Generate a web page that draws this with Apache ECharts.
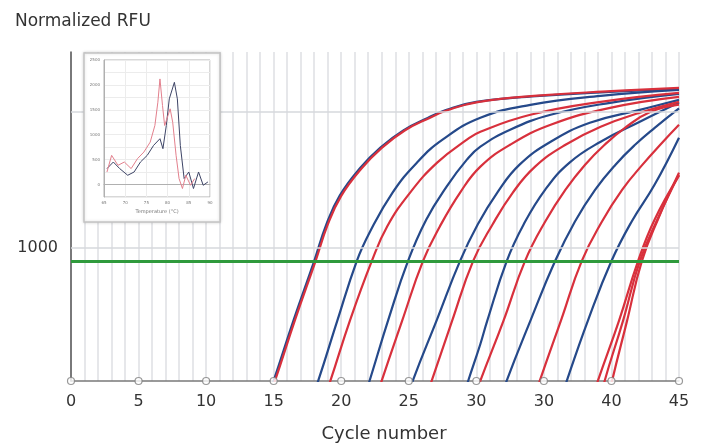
<!DOCTYPE html>
<html>
<head>
<meta charset="utf-8">
<script src="https://cdn.jsdelivr.net/npm/echarts@6.0.0/dist/echarts.min.js"></script>
<style>
  html, body { margin: 0; padding: 0; background: #fff; }
  #chart { width: 706px; height: 448px; }
</style>
</head>
<body>
<div id="chart"></div>
<script>
// x axis ticks (the reference really prints "30" twice)
const tickCycles = [0, 5, 10, 15, 20, 25, 30, 35, 40, 45];
const xTickLabels = ['0', '5', '10', '15', '20', '25', '30', '30', '40', '45'];

// y axis (log RFU)
const rfuMin = 103.5;
const rfuMax = 27600;
const gridRFU = [1000, 10000];
const thresholdRFU = 793;

// amplification curves: [cycle, RFU]
const blue1 = [[14.0, 54], [15.0, 104], [16.5, 296], [18.0, 793], [18.9, 1480], [19.9, 2420], [21.4, 3850], [22.9, 5450], [24.6, 7300], [26.4, 9000], [27.8, 10340], [30.0, 11840], [34.7, 13110], [39.9, 14030], [45, 14760]];
const red1 = [[14.1, 54], [15.1, 104], [16.6, 296], [18.1, 793], [19.0, 1470], [20.0, 2400], [21.5, 3820], [23.0, 5420], [24.7, 7280], [26.5, 8980], [27.9, 10300], [30.1, 11800], [34.8, 13200], [40.0, 14200], [45, 15000]];
const blue2 = [[17.3, 54], [18.3, 104], [19.7, 286], [21.15, 793], [22.1, 1289], [23.8, 2538], [25.6, 4217], [27.5, 6224], [30.3, 9035], [34.0, 11258], [39.2, 13113], [45, 14515]];
const red2 = [[18.2, 54], [19.2, 104], [20.65, 290], [22.26, 793], [23.4, 1427], [25.1, 2538], [27.1, 4217], [29.3, 6224], [30.3, 7128], [34.0, 9505], [39.2, 11843], [45, 13795]];
const blue3 = [[21.2, 54], [22.1, 104], [23.5, 296], [24.94, 793], [26.3, 1607], [27.8, 2809], [29.3, 4437], [30.3, 5528], [32.5, 7374], [35.5, 9505], [39.9, 11650], [45, 13566]];
const red3 = [[22.1, 54], [23.0, 104], [24.5, 286], [26.05, 793], [27.3, 1427], [28.8, 2538], [30.3, 3941], [32.5, 5715], [35.5, 8024], [39.9, 10700], [45, 12886]];
const blue4 = [[24.35, 54], [25.3, 104], [27.1, 296], [28.79, 793], [30.1, 1476], [31.6, 2581], [33.2, 4076], [35.5, 6013], [38.4, 8300], [42.1, 10340], [45, 12250]];
const red4 = [[25.7, 54], [26.7, 104], [28.2, 286], [29.76, 793], [31.2, 1476], [32.7, 2538], [34.35, 3941], [36.6, 5715], [39.2, 7757], [42.1, 9831], [45, 11843]];
const blue5 = [[28.5, 54], [29.4, 104], [30.3, 194], [30.8, 286], [32.25, 793], [33.5, 1476], [35.1, 2668], [36.9, 4217], [39.2, 6013], [42.1, 8444], [45, 11700]];
const red5 = [[29.3, 54], [30.3, 104], [32.0, 286], [33.6, 793], [35.1, 1553], [36.6, 2668], [38.05, 4076], [39.5, 5715], [41.0, 7617], [42.9, 10000], [45, 11300]];
const blue6 = [[31.3, 54], [32.25, 104], [34.05, 296], [35.83, 793], [37.3, 1553], [38.8, 2668], [40.3, 4076], [41.75, 5715], [43.2, 7617], [45, 10600]];
const red6 = [[33.8, 54], [34.7, 104], [36.3, 296], [37.8, 793], [39.3, 1553], [40.8, 2668], [42.3, 4076], [43.75, 5916], [45, 8024]];
const blue7 = [[35.8, 54], [36.7, 104], [38.3, 296], [40.0, 793], [41.5, 1553], [43.2, 2906], [45, 6445]];
const red7 = [[38.1, 54], [39.0, 104], [40.55, 286], [41.97, 793], [43.2, 1607], [45, 3381]];
const red8 = [[38.8, 54], [39.5, 104], [40.85, 286], [42.1, 793], [43.4, 1607], [45, 3441]];
const red9 = [[39.45, 54], [40.05, 104], [41.15, 286], [42.25, 793], [43.5, 1662], [45, 3560]];

const blueCurves = [blue1, blue2, blue3, blue4, blue5, blue6, blue7];
const redCurves = [red1, red2, red3, red4, red5, red6, red7, red8, red9];

// inset melt curves: [temperature, -dF/dT]
const meltRed = [[65.7, 252], [66.8, 586], [68.3, 386], [69.8, 452], [71.4, 320], [72.9, 520], [74.4, 652], [75.9, 852], [77.0, 1186], [77.7, 1652], [78.2, 2120], [78.8, 1586], [79.3, 1186], [80.1, 1386], [80.6, 1520], [81.2, 1252], [82.0, 586], [82.7, 120], [83.5, -80], [84.3, 186], [85.4, -14], [86.4, 120]];
const meltBlue = [[65.7, 319], [67.2, 452], [68.7, 320], [70.6, 186], [72.1, 252], [73.6, 452], [75.2, 586], [76.7, 786], [78.2, 920], [78.9, 720], [79.7, 1186], [80.4, 1720], [81.6, 2052], [82.3, 1720], [83.0, 786], [83.9, 120], [85.0, 252], [86.1, -80], [87.3, 252], [88.4, -14], [89.5, 52]];

const BLUE = '#25498a';
const RED = '#d8303c';
const FONT = 'DejaVu Sans';

const chart = echarts.init(document.getElementById('chart'));

const curveSeries = (data, color) => ({
  type: 'line',
  data,
  smooth: 0.45,
  showSymbol: false,
  silent: true,
  lineStyle: { color, width: 2.2 },
  z: 3
});

const series = [];
blueCurves.forEach(d => series.push(curveSeries(d, BLUE)));
redCurves.forEach(d => series.push(curveSeries(d, RED)));

// gray reference lines + green threshold
series.push({
  type: 'line',
  data: [],
  silent: true,
  z: 1,
  markLine: {
    symbol: 'none',
    silent: true,
    label: { show: false },
    lineStyle: { color: '#d6d9dc', width: 1.5, type: 'solid' },
    data: gridRFU.map(v => ({ yAxis: v }))
  }
});
series.push({
  type: 'line',
  data: [],
  silent: true,
  z: 2,
  markLine: {
    symbol: 'none',
    silent: true,
    label: { show: false },
    lineStyle: { color: '#2f9a3c', width: 3, type: 'solid' },
    data: [{ yAxis: thresholdRFU }]
  }
});

// hollow circles on the x axis
series.push({
  type: 'scatter',
  data: tickCycles.map(c => [c, rfuMin]),
  symbol: 'circle',
  symbolSize: 7,
  clip: false,
  silent: true,
  itemStyle: { color: '#fff', borderColor: '#808080', borderWidth: 1.2 },
  z: 10
});

// inset melt curves
series.push({
  type: 'line', xAxisIndex: 1, yAxisIndex: 1, data: meltBlue,
  showSymbol: false, silent: true, z: 12,
  lineStyle: { color: '#3d4466', width: 1 }
});
series.push({
  type: 'line', xAxisIndex: 1, yAxisIndex: 1, data: meltRed,
  showSymbol: false, silent: true, z: 12,
  lineStyle: { color: '#e3808d', width: 1 }
});

chart.setOption({
  animation: false,
  backgroundColor: '#fff',
  title: {
    text: 'Normalized RFU',
    left: 10,
    top: 8,
    textStyle: { fontFamily: FONT, fontSize: 17, fontWeight: 'normal', color: '#333' }
  },
  graphic: [{
    type: 'rect',
    z: 8,
    shape: { x: 84, y: 53, width: 136, height: 169 },
    style: { fill: '#fff', stroke: '#c4c4c4', lineWidth: 1.5, shadowBlur: 3, shadowColor: 'rgba(0,0,0,0.15)' }
  }],
  grid: [
    { left: 71, right: 27, top: 52, bottom: 66 },
    { left: 104, top: 60, width: 106, height: 137, show: true, z: 9, backgroundColor: '#fff', borderColor: '#b0b0b0', borderWidth: 1 }
  ],
  xAxis: [{
    type: 'value',
    gridIndex: 0,
    min: 0,
    max: 45,
    interval: 5,
    name: 'Cycle number',
    nameLocation: 'middle',
    nameGap: 44,
    nameTextStyle: { fontFamily: FONT, fontSize: 18, color: '#333', padding: [0, 0, 0, 18] },
    axisLine: { show: true, lineStyle: { color: '#7a7a7a', width: 1.5 } },
    axisTick: { show: false },
    axisLabel: {
      margin: 13,
      fontFamily: FONT,
      fontSize: 16,
      color: '#333',
      formatter: v => xTickLabels[tickCycles.indexOf(Math.round(v))] ?? ''
    },
    splitLine: { show: true, lineStyle: { color: '#e6e7ea', width: 2 } },
    minorTick: { show: false, splitNumber: 5 },
    minorSplitLine: { show: true, lineStyle: { color: '#e6e7ea', width: 2 } }
  }, {
    type: 'value',
    gridIndex: 1,
    min: 65,
    max: 90,
    interval: 5,
    z: 10,
    name: 'Temperature (\u00b0C)',
    nameLocation: 'middle',
    nameGap: 12,
    nameTextStyle: { fontFamily: FONT, fontSize: 5, color: '#777' },
    axisLine: { show: true, lineStyle: { color: '#b0b0b0', width: 1 } },
    axisTick: { show: false },
    axisLabel: { margin: 4, fontFamily: FONT, fontSize: 4, color: '#777' },
    splitLine: { show: true, lineStyle: { color: '#ececec', width: 1 } }
  }],
  yAxis: [{
    type: 'log',
    logBase: 10,
    gridIndex: 0,
    min: rfuMin,
    max: rfuMax,
    axisLine: { show: true, lineStyle: { color: '#555', width: 1.5 } },
    axisTick: { show: false },
    axisLabel: {
      margin: 13,
      fontFamily: FONT,
      fontSize: 16,
      color: '#333',
      formatter: v => (Math.round(v) === 1000 ? '1000' : '')
    },
    splitLine: { show: false }
  }, {
    type: 'value',
    gridIndex: 1,
    min: -250,
    max: 2500,
    interval: 250,
    z: 10,
    axisLine: { show: true, lineStyle: { color: '#b0b0b0', width: 1 } },
    axisTick: { show: false },
    axisLabel: {
      margin: 4,
      fontFamily: FONT,
      fontSize: 4,
      color: '#777',
      formatter: v => (v >= 0 && v % 500 === 0 ? String(v) : '')
    },
    splitLine: { show: true, lineStyle: { color: '#ececec', width: 1 } }
  }],
  series
});
</script>
</body>
</html>
